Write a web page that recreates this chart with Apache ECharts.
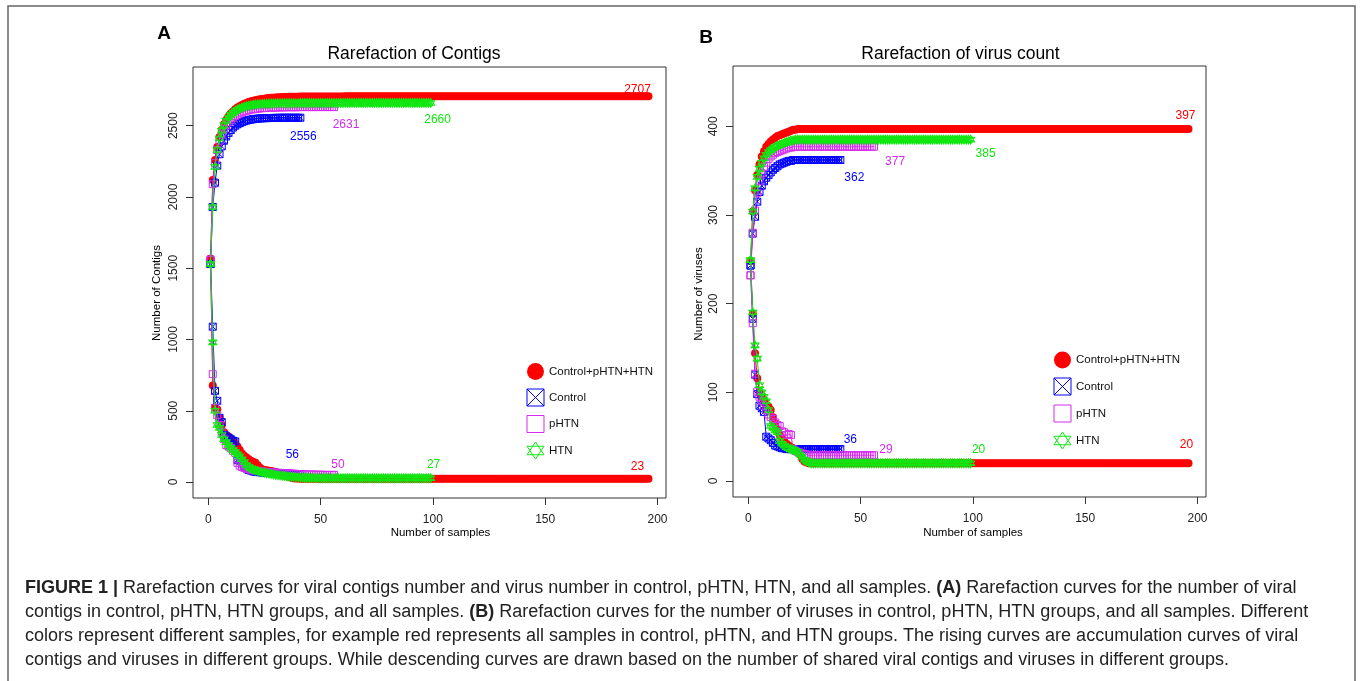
<!DOCTYPE html>
<html><head><meta charset="utf-8">
<script src="https://cdn.jsdelivr.net/npm/echarts@6/dist/echarts.min.js"></script>
<style>html,body{margin:0;padding:0;background:#fff}#c{width:1360px;height:681px}</style>
</head><body><div id="c"></div>
<script>
// ---------------- data ----------------
const groups = ['Control+pHTN+HTN', 'Control', 'pHTN', 'HTN'];
const xTicks = [0, 50, 100, 150, 200];
const yTicksA = [0, 500, 1000, 1500, 2000, 2500];
const yTicksB = [0, 100, 200, 300, 400];

// Panel A: rising (accumulation) curves, number of contigs vs number of samples
const aAllUp = [
1566,2120,2260,2350,2420,2470,2510,2540,2565,2585,
2600,2615,2627,2637,2646,2654,2660,2666,2671,2675,
2679,2682,2685,2688,2690,2692,2694,2696,2697,2698,
2699,2700,2701,2702,2702,2703,2703,2704,2704,2704,
2705,2705,2705,2705,2705,2705,2705,2705,2705,2705,
2705,2705,2705,2705,2705,2705,2705,2705,2705,2705,
2706,2706,2706,2706,2706,2706,2706,2706,2706,2706,
2706,2706,2706,2706,2706,2706,2706,2706,2706,2706,
2706,2706,2706,2706,2706,2706,2706,2706,2706,2706,
2706,2706,2706,2706,2706,2706,2706,2706,2706,2706,
2706,2706,2706,2706,2706,2706,2706,2706,2706,2706,
2706,2706,2706,2706,2706,2706,2706,2706,2706,2706,
2707,2707,2707,2707,2707,2707,2707,2707,2707,2707,
2707,2707,2707,2707,2707,2707,2707,2707,2707,2707,
2707,2707,2707,2707,2707,2707,2707,2707,2707,2707,
2707,2707,2707,2707,2707,2707,2707,2707,2707,2707,
2707,2707,2707,2707,2707,2707,2707,2707,2707,2707,
2707,2707,2707,2707,2707,2707,2707,2707,2707,2707,
2707,2707,2707,2707,2707,2707,2707,2707,2707,2707,
2707,2707,2707,2707,2707,2707];
const aCtrlUp = [
1530,1930,2100,2220,2300,2355,2395,2425,2450,2470,
2487,2500,2510,2518,2525,2531,2536,2540,2543,2546,
2548,2550,2551,2552,2553,2553,2554,2554,2555,2555,
2555,2556,2556,2556,2556,2556,2556,2556,2556,2556,
2556];
const aPhtnUp = [
1560,2090,2240,2330,2395,2440,2475,2502,2524,2542,
2556,2568,2578,2587,2594,2600,2605,2609,2613,2616,
2618,2620,2622,2623,2624,2625,2626,2627,2627,2628,
2628,2629,2629,2629,2630,2630,2630,2630,2630,2630,
2631,2631,2631,2631,2631,2631,2631,2631,2631,2631,
2631,2631,2631,2631,2631,2631];
const aHtnUp = [
1530,1930,2210,2330,2410,2465,2505,2535,2558,2576,
2590,2602,2612,2620,2627,2632,2637,2641,2644,2647,
2649,2651,2652,2653,2654,2655,2656,2656,2657,2657,
2658,2658,2658,2658,2658,2658,2658,2658,2658,2658,
2659,2659,2659,2659,2659,2659,2659,2659,2659,2659,
2659,2659,2659,2659,2659,2659,2659,2659,2659,2659,
2660,2660,2660,2660,2660,2660,2660,2660,2660,2660,
2660,2660,2660,2660,2660,2660,2660,2660,2660,2660,
2660,2660,2660,2660,2660,2660,2660,2660,2660,2660,
2660,2660,2660,2660,2660,2660,2660,2660,2660];

// Panel A: descending (shared contigs) curves
const aAllDn = [
1566,677,523,510,450,400,350,330,320,305,
290,270,250,225,200,185,172,160,150,140,
135,118,100,90,85,82,80,78,74,70,
65,58,50,45,40,35,30,27,25,24,
23,23,23,23,23,23,23,23,23,23,
23,23,23,23,23,23,23,23,23,23,
23,23,23,23,23,23,23,23,23,23,
23,23,23,23,23,23,23,23,23,23,
23,23,23,23,23,23,23,23,23,23,
23,23,23,23,23,23,23,23,23,23,
23,23,23,23,23,23,23,23,23,23,
23,23,23,23,23,23,23,23,23,23,
23,23,23,23,23,23,23,23,23,23,
23,23,23,23,23,23,23,23,23,23,
23,23,23,23,23,23,23,23,23,23,
23,23,23,23,23,23,23,23,23,23,
23,23,23,23,23,23,23,23,23,23,
23,23,23,23,23,23,23,23,23,23,
23,23,23,23,23,23,23,23,23,23,
23,23,23,23,23,23];
const aCtrlDn = [
1530,1090,640,570,450,420,330,320,310,300,
290,285,156,150,130,110,95,85,80,75,
72,70,68,67,66,65,64,63,62,61,
60,60,59,59,58,58,57,57,56,56,
56];
const aPhtnDn = [
1560,757,520,470,400,350,300,260,250,240,
220,205,135,115,105,100,95,90,85,82,
80,78,76,74,72,70,69,68,67,66,
65,64,63,62,61,60,59,58,57,56,
55,55,54,54,53,53,52,52,51,51,
51,50,50,50,50,50];
const aHtnDn = [
1530,980,500,400,380,330,300,280,260,240,
225,210,195,180,160,140,120,105,95,88,
82,77,72,68,65,62,59,56,53,50,
48,46,44,42,40,38,36,35,34,33,
32,31,30,30,29,29,28,28,27,27,
27,27,27,27,27,27,27,27,27,27,
27,27,27,27,27,27,27,27,27,27,
27,27,27,27,27,27,27,27,27,27,
27,27,27,27,27,27,27,27,27,27,
27,27,27,27,27,27,27,27,27];

// Panel B: rising (accumulation) curves, number of viruses
const bAllUp = [
248,304,328,345,357,366,372,377,380,383,
385,387,389,390,391,392,393,394,395,396,
396,397,397,397,397,397,397,397,397,397,
397,397,397,397,397,397,397,397,397,397,
397,397,397,397,397,397,397,397,397,397,
397,397,397,397,397,397,397,397,397,397,
397,397,397,397,397,397,397,397,397,397,
397,397,397,397,397,397,397,397,397,397,
397,397,397,397,397,397,397,397,397,397,
397,397,397,397,397,397,397,397,397,397,
397,397,397,397,397,397,397,397,397,397,
397,397,397,397,397,397,397,397,397,397,
397,397,397,397,397,397,397,397,397,397,
397,397,397,397,397,397,397,397,397,397,
397,397,397,397,397,397,397,397,397,397,
397,397,397,397,397,397,397,397,397,397,
397,397,397,397,397,397,397,397,397,397,
397,397,397,397,397,397,397,397,397,397,
397,397,397,397,397,397,397,397,397,397,
397,397,397,397,397,397];
const bCtrlUp = [
243,279,298,315,326,333,338,342,345,348,
351,353,355,357,358,359,360,361,361,362,
362,362,362,362,362,362,362,362,362,362,
362,362,362,362,362,362,362,362,362,362,
362];
const bPhtnUp = [
232,280,305,325,338,347,354,359,363,366,
368,370,371,372,373,374,375,376,376,377,
377,377,377,377,377,377,377,377,377,377,
377,377,377,377,377,377,377,377,377,377,
377,377,377,377,377,377,377,377,377,377,
377,377,377,377,377,377];
const bHtnUp = [
249,304,330,343,352,359,364,368,371,373,
375,377,378,379,380,381,382,383,384,384,
385,385,385,385,385,385,385,385,385,385,
385,385,385,385,385,385,385,385,385,385,
385,385,385,385,385,385,385,385,385,385,
385,385,385,385,385,385,385,385,385,385,
385,385,385,385,385,385,385,385,385,385,
385,385,385,385,385,385,385,385,385,385,
385,385,385,385,385,385,385,385,385,385,
385,385,385,385,385,385,385,385,385];

// Panel B: descending (shared viruses) curves
const bAllDn = [
248,189,144,116,100,95,90,86,84,80,
72,65,58,52,48,45,42,40,38,37,
36,35,30,25,22,21,20,20,20,20,
20,20,20,20,20,20,20,20,20,20,
20,20,20,20,20,20,20,20,20,20,
20,20,20,20,20,20,20,20,20,20,
20,20,20,20,20,20,20,20,20,20,
20,20,20,20,20,20,20,20,20,20,
20,20,20,20,20,20,20,20,20,20,
20,20,20,20,20,20,20,20,20,20,
20,20,20,20,20,20,20,20,20,20,
20,20,20,20,20,20,20,20,20,20,
20,20,20,20,20,20,20,20,20,20,
20,20,20,20,20,20,20,20,20,20,
20,20,20,20,20,20,20,20,20,20,
20,20,20,20,20,20,20,20,20,20,
20,20,20,20,20,20,20,20,20,20,
20,20,20,20,20,20,20,20,20,20,
20,20,20,20,20,20,20,20,20,20,
20,20,20,20,20,20];
const bCtrlDn = [
243,183,120,98,85,82,78,50,48,46,
43,40,39,38,37,37,36,36,36,36,
36,36,36,36,36,36,36,36,36,36,
36,36,36,36,36,36,36,36,36,36,
36];
const bPhtnDn = [
232,178,121,101,95,90,85,80,75,72,
70,66,63,62,56,55,52,53,52,36,
34,33,32,31,30,30,29,29,29,29,
29,29,29,29,29,29,29,29,29,29,
29,29,29,29,29,29,29,29,29,29,
29,29,29,29,29,29];
const bHtnDn = [
249,190,153,138,108,100,95,90,80,62,
60,57,55,45,42,40,38,37,36,35,
34,33,30,27,24,22,21,20,20,20,
20,20,20,20,20,20,20,20,20,20,
20,20,20,20,20,20,20,20,20,20,
20,20,20,20,20,20,20,20,20,20,
20,20,20,20,20,20,20,20,20,20,
20,20,20,20,20,20,20,20,20,20,
20,20,20,20,20,20,20,20,20,20,
20,20,20,20,20,20,20,20,20];

// ---------------- styles ----------------
const FONT = '"Liberation Sans", Arial, Helvetica, sans-serif';
const colors = ['#FF0000', '#0000FF', '#D62AF0', '#11E611'];
const symbols = [
  'circle',
  'path://M0,0L10,0L10,10L0,10ZM0,0L10,10M10,0L0,10',
  'path://M0,0L10,0L10,10L0,10Z',
  'path://M8.66,0L17.32,15L0,15ZM8.66,20L17.32,5L0,5Z'
];
const symSizes = [8, 7, 7, [8, 9]];

function mkSeries(gi, idx, vals, offset) {
  const data = vals.map((v, i) => [i + 1, v]);
  const last = data.length - 1;
  data[last] = {
    value: data[last],
    label: {
      show: true, position: 'inside', offset: offset,
      formatter: (p) => String(p.value[1]),
      color: colors[idx], fontSize: 12, fontFamily: FONT
    }
  };
  const filled = idx === 0;
  return {
    type: 'line', name: groups[idx], xAxisIndex: gi, yAxisIndex: gi,
    data: data, symbol: symbols[idx], symbolSize: symSizes[idx],
    showSymbol: true, showAllSymbol: true, animation: false,
    label: { show: false },
    lineStyle: { color: colors[idx], width: 1 },
    itemStyle: filled ? { color: colors[idx], borderWidth: 0 }
                      : { color: 'transparent', borderColor: colors[idx], borderWidth: 1 },
    emphasis: { disabled: true }, z: 2 + idx
  };
}

const series = [
  mkSeries(0, 0, aAllUp, [-11, -7]),
  mkSeries(0, 1, aCtrlUp, [3, 19]),
  mkSeries(0, 2, aPhtnUp, [12, 18]),
  mkSeries(0, 3, aHtnUp, [7, 17]),
  mkSeries(0, 0, aAllDn, [-11, -12]),
  mkSeries(0, 1, aCtrlDn, [-8, -19]),
  mkSeries(0, 2, aPhtnDn, [4, -10]),
  mkSeries(0, 3, aHtnDn, [3, -14]),
  mkSeries(1, 0, bAllUp, [-3, -13]),
  mkSeries(1, 1, bCtrlUp, [14, 18]),
  mkSeries(1, 2, bPhtnUp, [21, 15]),
  mkSeries(1, 3, bHtnUp, [15, 14]),
  mkSeries(1, 0, bAllDn, [-2, -19]),
  mkSeries(1, 1, bCtrlDn, [10, -9]),
  mkSeries(1, 2, bPhtnDn, [12, -6]),
  mkSeries(1, 3, bHtnDn, [8, -14])
];

function xAxisCfg(gi) {
  return {
    type: 'value', gridIndex: gi, min: -6.8, max: 203.8, position: 'bottom',
    axisLine: { show: false, onZero: false }, splitLine: { show: false },
    axisTick: { show: true, length: 7, customValues: xTicks, lineStyle: { color: '#333' } },
    axisLabel: { customValues: xTicks, formatter: (v) => String(v), margin: 16, fontSize: 12, color: '#222', fontFamily: FONT }
  };
}
function yAxisCfg(gi, min, max, ticks) {
  return {
    type: 'value', gridIndex: gi, min: min, max: max, position: 'left',
    axisLine: { show: false, onZero: false }, splitLine: { show: false },
    axisTick: { show: true, length: 7, customValues: ticks, lineStyle: { color: '#333' } },
    axisLabel: { customValues: ticks, formatter: (v) => String(v), rotate: 90, margin: 13, fontSize: 12, color: '#222', fontFamily: FONT }
  };
}

function legendCfg(left, top, gap) {
  return {
    left: left, top: top, orient: 'vertical', padding: 0,
    itemWidth: 17, itemHeight: 17, itemGap: gap, selectedMode: false,
    symbolKeepAspect: false,
    textStyle: { fontSize: 11.5, color: '#111', fontFamily: FONT },
    data: groups.map((g, i) => ({
      name: g, icon: symbols[i],
      itemStyle: i === 0 ? { color: colors[0], borderWidth: 0 }
                         : { color: 'transparent', borderColor: colors[i], borderWidth: 1 }
    }))
  };
}

function txt(x, y, text, size, opts) {
  return Object.assign({
    type: 'text', x: x, y: y, silent: true,
    style: Object.assign({
      text: text, fontSize: size, fontFamily: FONT, fill: '#000',
      align: 'center', verticalAlign: 'middle'
    }, (opts && opts.style) || {})
  }, (opts && opts.el) || {});
}

const CAP = 18;
const capRich = { b: { fontWeight: 'bold', fontSize: CAP, fontFamily: FONT, fill: '#222' } };
const captionLines = [
  '{b|FIGURE 1 |} Rarefaction curves for viral contigs number and virus number in control, pHTN, HTN, and all samples. {b|(A)} Rarefaction curves for the number of viral',
  'contigs in control, pHTN, HTN groups, and all samples. {b|(B)} Rarefaction curves for the number of viruses in control, pHTN, HTN groups, and all samples. Different',
  'colors represent different samples, for example red represents all samples in control, pHTN, and HTN groups. The rising curves are accumulation curves of viral',
  'contigs and viruses in different groups. While descending curves are drawn based on the number of shared viral contigs and viruses in different groups.'
];
const capY = [588, 612, 636, 660];

const graphics = [
  { type: 'rect', silent: true, shape: { x: 8, y: 6, width: 1347, height: 720 },
    style: { fill: 'none', stroke: '#666', lineWidth: 1.5 } },
  txt(164, 33.5, 'A', 19, { style: { fontWeight: 'bold' } }),
  txt(706, 38, 'B', 19, { style: { fontWeight: 'bold' } }),
  txt(414, 54.5, 'Rarefaction of Contigs', 17.5),
  txt(960.5, 54.5, 'Rarefaction of virus count', 17.5),
  txt(440.5, 533, 'Number of samples', 11.5),
  txt(973, 533, 'Number of samples', 11.5),
  txt(157, 293, 'Number of Contigs', 11.5, { el: { rotation: Math.PI / 2 } }),
  txt(698.5, 294, 'Number of viruses', 11.5, { el: { rotation: Math.PI / 2 } })
];
captionLines.forEach((t, i) => {
  graphics.push({
    type: 'text', x: 25, y: capY[i], silent: true,
    style: { text: t, rich: capRich, fontSize: CAP, fontFamily: FONT, fill: '#222',
             align: 'left', verticalAlign: 'middle' }
  });
});

const chart = echarts.init(document.getElementById('c'), null, { renderer: 'canvas' });
chart.setOption({
  animation: false,
  backgroundColor: '#fff',
  grid: [
    { left: 193, top: 67, width: 473, height: 431, show: true, borderColor: '#333', borderWidth: 1, backgroundColor: 'transparent' },
    { left: 733, top: 66, width: 473, height: 431, show: true, borderColor: '#333', borderWidth: 1, backgroundColor: 'transparent' }
  ],
  xAxis: [xAxisCfg(0), xAxisCfg(1)],
  yAxis: [yAxisCfg(0, -112, 2912, yTicksA), yAxisCfg(1, -18, 468, yTicksB)],
  legend: [legendCfg(526.5, 363, 8.5), legendCfg(1053.5, 351.5, 9)],
  series: series,
  graphic: graphics
});
</script>
</body></html>
